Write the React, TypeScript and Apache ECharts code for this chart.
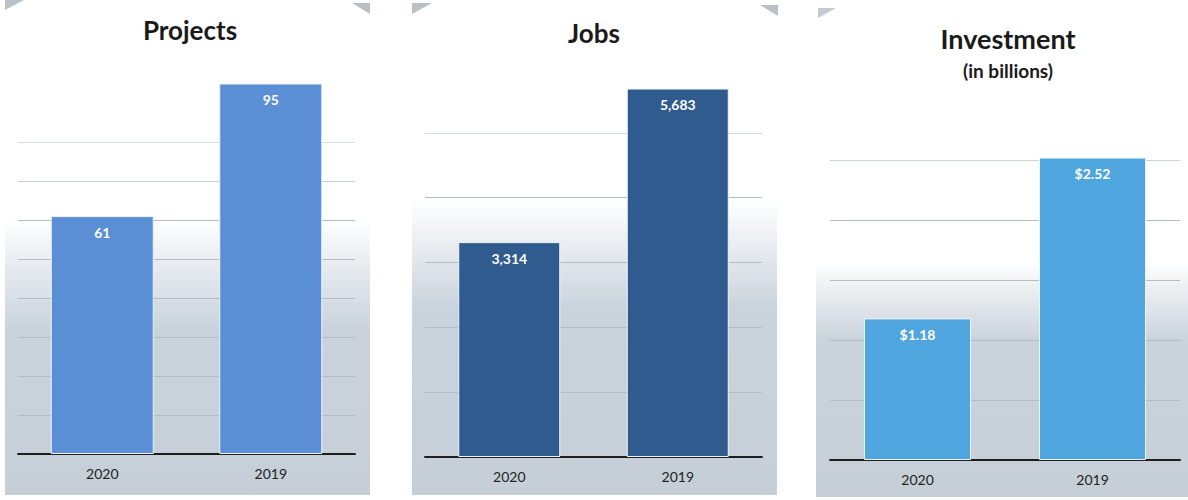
import React, { useEffect, useRef } from "react";
import * as echarts from "echarts";

const categories = ["2020", "2019"];
const projectsValues = [61, 95];
const jobsValues = [3314, 5683];
const investmentValues = [1.18, 2.52];
const titles = ["Projects", "Jobs", "Investment"];
const investmentSubtitle = "(in billions)";

const FONT = "Lato, 'Noto Sans', sans-serif";

function bg(x: number, y: number, w: number, h: number, s1: number, s2: number) {
  return {
    type: "rect",
    z: -10,
    shape: { x, y, width: w, height: h },
    style: {
      fill: new echarts.graphic.LinearGradient(0, 0, 0, 1, [
        { offset: 0, color: "#ffffff" },
        { offset: s1, color: "#ffffff" },
        { offset: s2, color: "#cad3dc" },
        { offset: 1, color: "#c6cfd8" },
      ]),
    },
  };
}

function titleText(text: string, x: number, y: number, size: number) {
  return {
    type: "text",
    x,
    y,
    style: {
      text,
      fontFamily: FONT,
      fontWeight: "bold",
      fontSize: size,
      fill: "#1a1a1a",
      textAlign: "center",
      textVerticalAlign: "middle",
    },
  };
}

export default function App() {
  const ref = useRef<HTMLDivElement>(null);
  useEffect(() => {
    if (!ref.current) return;
    const chart = echarts.init(ref.current, null, { renderer: "svg" });
    const grids = [
      { left: 18, top: 64, width: 337, height: 390 },
      { left: 425, top: 68, width: 337, height: 389 },
      { left: 830, top: 100, width: 350, height: 360 },
    ];
    const maxes = [100, 6000, 3];
    const intervals = [10, 1000, 0.5];
    const colors = ["#5a8fd5", "#2f5b8e", "#4fa5de"];
    const barWidths = [103, 102, 107];
    const datas = [projectsValues, jobsValues, investmentValues];
    const g = "#b3bbc3";
    const t = "rgba(0,0,0,0)";
    const lineColors = [
      [g, g, g, g, g, g, g, "#c8ced4", "#d8dde2", t, t],
      [g, g, g, g, g, "#d3d8dd", t],
      [g, g, g, g, g, "#cdd3d9", t],
    ];
    const fmts = [
      (v: number) => String(v),
      (v: number) => v.toLocaleString("en-US"),
      (v: number) => "$" + v.toFixed(2),
    ];
    const option: any = {
      animation: false,
      grid: grids.map((gr) => ({ ...gr, containLabel: false })),
      xAxis: grids.map((_, i) => ({
        type: "category",
        gridIndex: i,
        data: categories,
        axisLine: { show: true, lineStyle: { color: "#1e1e1e", width: 2 } },
        axisTick: { show: false },
        axisLabel: {
          color: "#222",
          fontFamily: FONT,
          fontSize: 14,
          margin: 12,
        },
      })),
      yAxis: grids.map((_, i) => ({
        type: "value",
        gridIndex: i,
        min: 0,
        max: maxes[i],
        interval: intervals[i],
        axisLine: { show: false },
        axisTick: { show: false },
        axisLabel: { show: false },
        splitLine: { show: true, lineStyle: { color: lineColors[i], width: 1 } },
      })),
      series: datas.map((d, i) => ({
        type: "bar",
        xAxisIndex: i,
        yAxisIndex: i,
        data: d,
        barWidth: barWidths[i],
        itemStyle: { color: colors[i], borderColor: "#eef3f8", borderWidth: 1 },
        label: {
          show: true,
          position: "insideTop",
          distance: 9,
          color: "#ffffff",
          fontFamily: FONT,
          fontWeight: "bold",
          fontSize: 14,
          formatter: (p: any) => fmts[i](p.value),
        },
      })),
      graphic: [
        bg(5, 0, 365, 495, 0.44, 0.66),
        bg(412, 3, 365, 492, 0.4, 0.62),
        bg(816, 5, 372, 492, 0.52, 0.68),
        { type: "polygon", z: -5, shape: { points: [[5, 0], [24, 0], [5, 10]] }, style: { fill: "#b9c0c8" } },
        { type: "polygon", z: -5, shape: { points: [[352, 3], [370, 3], [370, 14]] }, style: { fill: "#b9c0c8" } },
        { type: "polygon", z: -5, shape: { points: [[412, 3], [432, 3], [412, 14]] }, style: { fill: "#b9c0c8" } },
        { type: "polygon", z: -5, shape: { points: [[760, 5], [778, 5], [778, 16]] }, style: { fill: "#b9c0c8" } },
        { type: "polygon", z: -5, shape: { points: [[818, 8], [836, 8], [818, 18]] }, style: { fill: "#c5cbd2" } },
        titleText(titles[0], 190, 30, 26),
        titleText(titles[1], 594, 33, 26),
        titleText(titles[2], 1008, 38, 27),
        titleText(investmentSubtitle, 1008, 70, 19),
      ],
    };
    chart.setOption(option);
    return () => chart.dispose();
  }, []);
  return (
    <div
      ref={ref}
      style={{ position: "fixed", left: 0, top: 0, width: 1188, height: 500, background: "#ffffff" }}
    />
  );
}
